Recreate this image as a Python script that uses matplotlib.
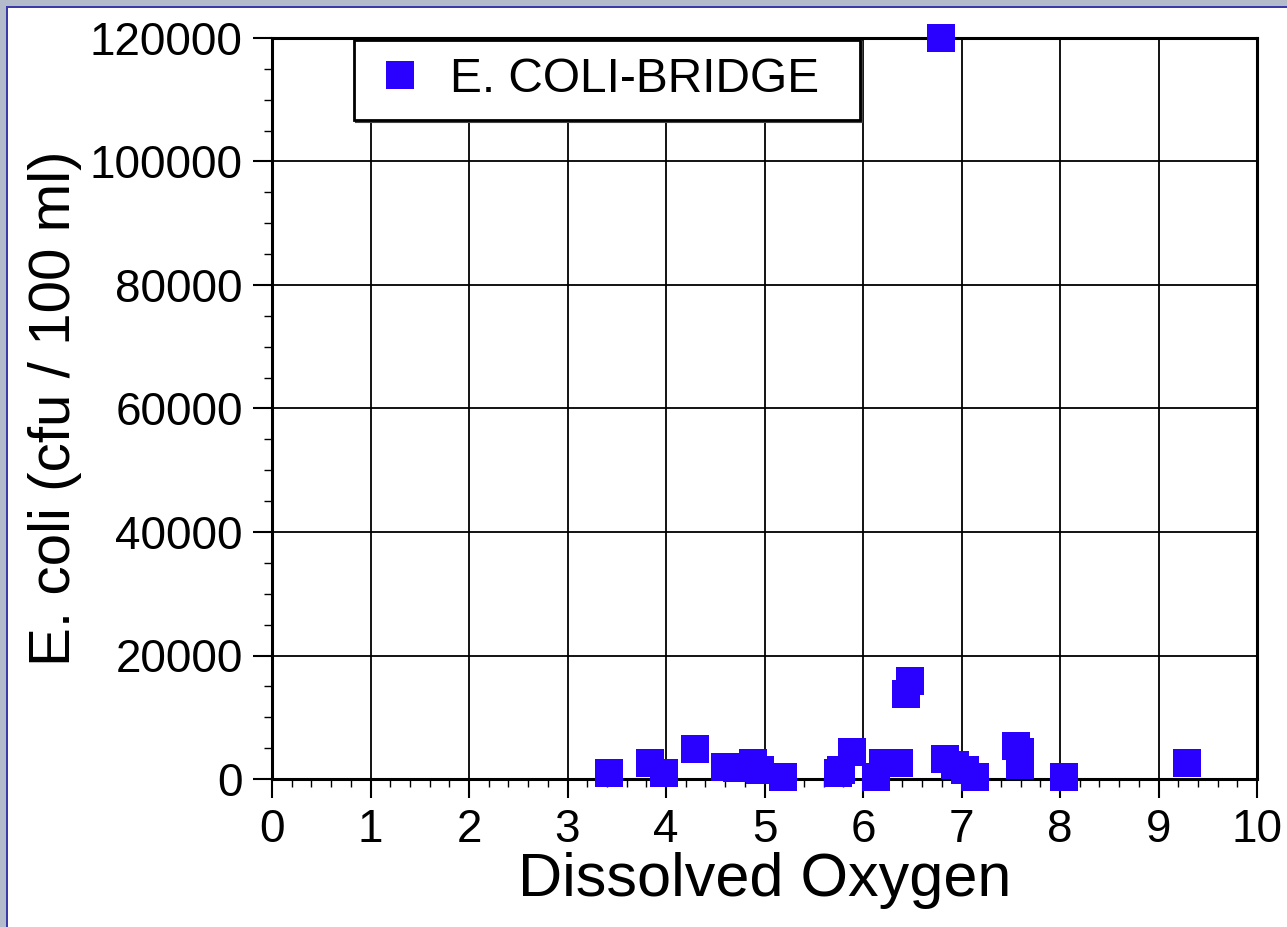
import numpy as np
import matplotlib
matplotlib.use("Agg")
import matplotlib.pyplot as plt
from matplotlib.patches import Rectangle
from matplotlib.ticker import MultipleLocator

plt.rcParams['font.family'] = ['Liberation Sans', 'DejaVu Sans']

# 溶存酸素 と 大腸菌数
dissolved_oxygen = [3.42, 3.84, 3.98, 4.29, 4.60, 4.72, 4.88, 4.95, 5.19,
                    5.75, 5.78, 5.89, 6.13, 6.20, 6.37, 6.44, 6.48, 6.79,
                    6.83, 6.93, 7.04, 7.14, 7.55, 7.59, 7.59, 8.04, 9.29]
e_coli = [1000, 2600, 1000, 4900, 2000, 1800, 2600, 1500, 400,
          1000, 1500, 4300, 400, 2600, 2600, 13800, 15900, 120000,
          3200, 2200, 1500, 400, 5400, 4300, 2200, 400, 2600]

series_label = 'E. COLI-BRIDGE'
x_label = 'Dissolved Oxygen'
y_label = 'E. coli (cfu / 100 ml)'

W, H = 1287, 927
fig = plt.figure(figsize=(W / 100, H / 100), dpi=100)
fig.patch.set_facecolor('white')

# 左と上の枠
gray = '#b4bccb'
blue_line = '#3a3aa8'
fig.patches.append(Rectangle((0, 1 - 6 / H), 1, 6 / H, transform=fig.transFigure,
                             facecolor=gray, edgecolor='none'))
fig.patches.append(Rectangle((0, 0), 6 / W, 1, transform=fig.transFigure,
                             facecolor=gray, edgecolor='none'))
fig.patches.append(Rectangle((6 / W, 1 - 8 / H), 1, 2 / H, transform=fig.transFigure,
                             facecolor=blue_line, edgecolor='none'))
fig.patches.append(Rectangle((6 / W, 0), 2 / W, 1 - 6 / H, transform=fig.transFigure,
                             facecolor=blue_line, edgecolor='none'))

ax_l, ax_b, ax_w, ax_h = 272 / W, 1 - 779 / H, (1257 - 272) / W, (779 - 38) / H
ax = fig.add_axes([ax_l, ax_b, ax_w, ax_h])

ax.plot(dissolved_oxygen, e_coli, linestyle='none', marker='s', markersize=19.5,
        color='#2a00ff', markeredgewidth=0, label=series_label, clip_on=False, zorder=5)

ax.set_xlim(0, 10)
ax.set_ylim(0, 120000)
ax.xaxis.set_major_locator(MultipleLocator(1))
ax.xaxis.set_minor_locator(MultipleLocator(0.2))
ax.yaxis.set_major_locator(MultipleLocator(20000))
ax.yaxis.set_minor_locator(MultipleLocator(5000))

ax.grid(True, which='major', color='black', linewidth=1.3)
ax.set_axisbelow(True)
for s in ax.spines.values():
    s.set_linewidth(2.2)
    s.set_color('black')

ax.tick_params(which='major', direction='out', length=14, width=1.5,
               labelsize=33, pad=7, colors='black')
ax.tick_params(which='minor', direction='out', length=6, width=1.0, colors='black')

ax.set_xlabel(x_label, fontsize=44, labelpad=0)
ax.set_ylabel(y_label, fontsize=42, labelpad=6)

# 凡例: 枠は自前で描く (元図は右側の余白が広い)
box_x0, box_x1 = (354 - 272) / 985, (860 - 272) / 985
box_y0, box_y1 = (779 - 120) / 741, (779 - 40) / 741
ax.add_patch(Rectangle((box_x0 + 2 / 985, box_y0 - 2 / 741), box_x1 - box_x0, box_y1 - box_y0,
                       transform=ax.transAxes, facecolor='none', edgecolor='#444444',
                       linewidth=1.5, zorder=6))
ax.add_patch(Rectangle((box_x0, box_y0), box_x1 - box_x0, box_y1 - box_y0,
                       transform=ax.transAxes, facecolor='white', edgecolor='black',
                       linewidth=2.0, zorder=6))
leg = ax.legend(loc='upper left', bbox_to_anchor=(box_x0, box_y1), borderaxespad=0,
                fontsize=34.5, frameon=False,
                handletextpad=0.45, borderpad=0.35, markerscale=1.0,
                handlelength=1.2)
leg.set_zorder(7)

fig.savefig('out.png', dpi=100, facecolor='white')
